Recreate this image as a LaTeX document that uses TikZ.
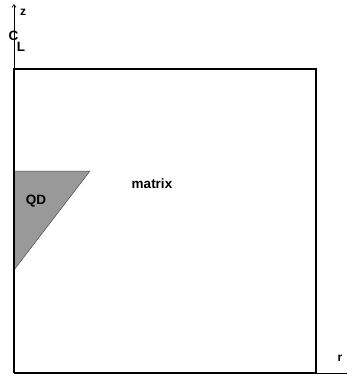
\documentclass[tikz,border=0pt]{standalone}
\usepackage{fontspec}
\setmainfont{Liberation Sans}
\usetikzlibrary{arrows.meta}
\begin{document}
\begin{tikzpicture}[x=1pt,y=-1pt,
  lbl/.style={inner sep=0pt,font=\bfseries\fontsize{13.5}{13.5}\selectfont},
  small/.style={inner sep=0pt,font=\bfseries\fontsize{12}{12}\selectfont},
  axis/.style={line width=0.6pt},
  wall/.style={line width=2pt}]
\useasboundingbox (0,0) rectangle (347,379);
% coordinates
\coordinate (o) at (14,373);
\coordinate (ztop) at (14,4);
\coordinate (rend) at (347,373);
\coordinate (tl) at (14,69);
\coordinate (tr) at (316,69);
\coordinate (br) at (316,373);
\coordinate (qa) at (14,171);
\coordinate (qb) at (90,171);
\coordinate (qc) at (14,270);
% axes
\draw[axis,-{Straight Barb[length=3pt,width=4pt]}] (o) -- (ztop);
\draw[axis] (o) -- (rend);
% box
\draw[wall] (o) -- (tl) -- (tr) -- (br) -- (o);
% QD triangle
\filldraw[fill=black!40,draw=black!70,line width=0.5pt] (qa) -- (qb) -- (qc) -- cycle;
\draw[wall] (qa) -- (qc);
% labels
\node[small] (zl) at (23,12) {z};
\node[lbl] (cl) at (13.5,36) {C};
\node[lbl] (ll) at (21,46.5) {L};
\node[lbl] (qd) at (36,201) {QD};
\node[lbl] (mx) at (152,184) {matrix};
\node[small] (rl) at (340,358) {r};
\end{tikzpicture}
\end{document}
